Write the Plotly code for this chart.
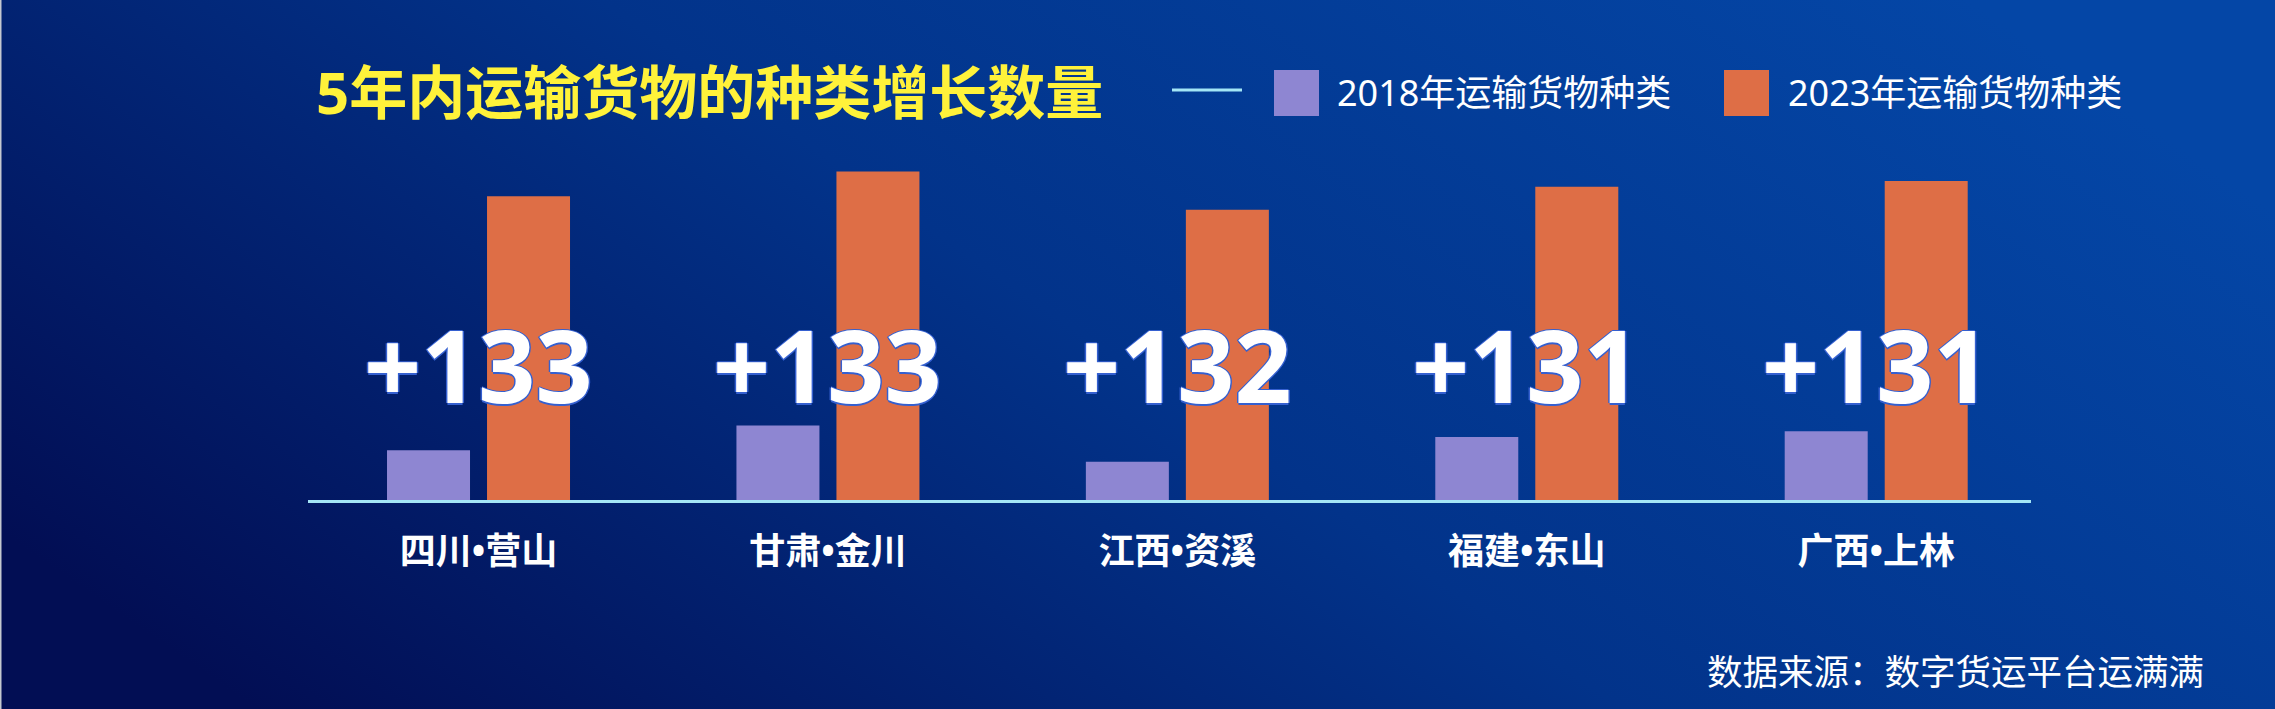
import base64
import plotly.graph_objects as go

# ---------------- data ----------------
categories = ["四川•营山", "甘肃•金川", "江西•资溪", "福建•东山", "广西•上林"]
values_2018 = [26, 39, 20, 33, 36]
values_2023 = [159, 172, 152, 164, 167]
series_names = ["2018年运输货物种类", "2023年运输货物种类"]
title_text = "5年内运输货物的种类增长数量"
source_text = "数据来源：数字货运平台运满满"

# ---------------- layout helpers ----------------
W, H = 2275, 709


def px(x):
    return x / W


def py(y):
    return 1 - y / H


COL_2018 = "#8E86D2"
COL_2023 = "#DE6E46"
COL_AXIS = "#A4E6F6"
CJK = "Noto Sans CJK SC"
MIX = "Noto Sans, Noto Sans CJK SC"

# background gradient as SVG
svg = f"""<svg xmlns='http://www.w3.org/2000/svg' width='{W}' height='{H}' viewBox='0 0 {W} {H}' preserveAspectRatio='none'>
<defs><linearGradient id='g' x1='0' y1='0.75' x2='1' y2='0.3'>
<stop offset='0' stop-color='#020E54'/>
<stop offset='0.5' stop-color='#02338A'/>
<stop offset='1' stop-color='#0446A6'/>
</linearGradient></defs>
<rect width='{W}' height='{H}' fill='url(#g)'/>
</svg>"""
bg_uri = "data:image/svg+xml;base64," + base64.b64encode(svg.encode()).decode()

fig = go.Figure()
fig.add_trace(go.Bar(x=categories, y=values_2018, name=series_names[0],
                     marker=dict(color=COL_2018, line=dict(width=0))))
fig.add_trace(go.Bar(x=categories, y=values_2023, name=series_names[1],
                     marker=dict(color=COL_2023, line=dict(width=0))))

annotations = []
# difference labels
for c, a, b in zip(categories, values_2018, values_2023):
    annotations.append(dict(
        x=c, y=71, xref="x", yref="y", text=f"+{b - a}", showarrow=False,
        xanchor="center", yanchor="middle",
        font=dict(family="Open Sans", size=100, weight=700, color="white",
                  shadow="#3560D0 1.5px 0 0, #3560D0 -1.5px 0 0, #3560D0 0 1.5px 0, #3560D0 0 -1.5px 0"),
    ))

# legend (manual, to match large symbols)
annotations.append(dict(x=px(1335), y=py(92), xref="paper", yref="paper", text=series_names[0],
                        showarrow=False, xanchor="left", yanchor="middle",
                        font=dict(family=MIX, size=36, color="white")))
annotations.append(dict(x=px(1786), y=py(92), xref="paper", yref="paper", text=series_names[1],
                        showarrow=False, xanchor="left", yanchor="middle",
                        font=dict(family=MIX, size=36, color="white")))
# source
annotations.append(dict(x=px(2206), y=py(669), xref="paper", yref="paper", text=source_text,
                        showarrow=False, xanchor="right", yanchor="middle",
                        font=dict(family=CJK, size=35.5, color="white")))

shapes = [
    dict(type="line", xref="paper", yref="paper", x0=px(1172), x1=px(1242), y0=py(90), y1=py(90),
         line=dict(color=COL_AXIS, width=3)),
    dict(type="rect", xref="paper", yref="paper", x0=px(1274), x1=px(1319), y0=py(116), y1=py(70),
         fillcolor=COL_2018, line=dict(width=0)),
    dict(type="rect", xref="paper", yref="paper", x0=px(1724), x1=px(1769), y0=py(116), y1=py(70),
         fillcolor=COL_2023, line=dict(width=0)),
    dict(type="rect", xref="paper", yref="paper", x0=0, x1=px(1.5), y0=0, y1=1,
         fillcolor="#C4C8D0", line=dict(width=0), layer="above"),
]

fig.update_layout(
    width=W, height=H,
    margin=dict(l=0, r=0, t=0, b=0),
    paper_bgcolor="#02135A",
    plot_bgcolor="rgba(0,0,0,0)",
    showlegend=False,
    barmode="group",
    bargap=0.4276,
    bargroupgap=0.17,
    images=[dict(source=bg_uri, xref="paper", yref="paper", x=0, y=1, sizex=1, sizey=1,
                 sizing="stretch", layer="below", xanchor="left", yanchor="top")],
    title=dict(text=title_text, x=px(316), xanchor="left", y=py(94), yanchor="middle",
               font=dict(family=MIX, size=58, weight=700, color="#FFF23A")),
    xaxis=dict(domain=[px(308), px(2031)], range=[-0.488, 4.443], type="category",
               showline=True, linecolor=COL_AXIS, linewidth=3, showgrid=False, zeroline=False,
               ticks="outside", ticklen=18, tickcolor="rgba(0,0,0,0)",
               tickfont=dict(family=MIX, size=36, weight=700, color="white")),
    yaxis=dict(domain=[py(500), py(100)], range=[0, 400 / 1.91], visible=False,
               showgrid=False, zeroline=False),
    annotations=annotations,
    shapes=shapes,
)

fig.write_html("out.html", config={"displayModeBar": False},
               post_script="document.body.style.margin='0';document.body.style.overflow='hidden';")
